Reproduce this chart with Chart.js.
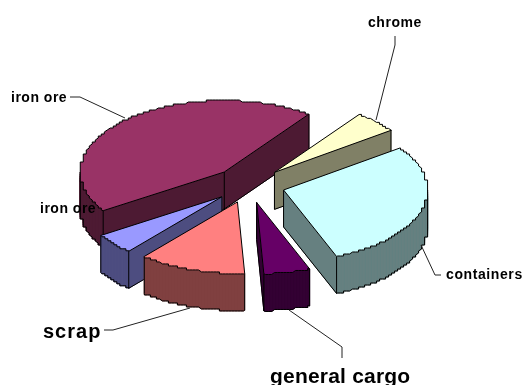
<!DOCTYPE html>
<html>
<head>
<meta charset="utf-8">
<style>html,body{margin:0;padding:0;background:#fff}canvas{display:block}</style>
<script src="https://cdn.jsdelivr.net/npm/chart.js@4/dist/chart.umd.min.js"></script>
</head>
<body>
<canvas id="c" width="523" height="385"></canvas>
<script>
const categories = ['chrome', 'containers', 'general cargo', 'scrap', 'iron ore', 'iron ore'];
const shares = [5, 29, 5.2, 12, 4.7, 44.1];
const topColors = ['#FFFFCC', '#CCFFFF', '#660066', '#FF8080', '#9999FF', '#993366'];
const sideColors = ['#808066', '#668080', '#330033', '#804040', '#4D4D80', '#4D1A33'];

const labelFonts = [14, 14, 21, 20, 14, 14];
const labelSpacing = [0.55, 0.6, 0.2, 1, 0.5, 0.5];
const labelAnchors = [[368, 27], [446, 279], [270, 383], [43, 338], [40, 213], [11, 102]];
const leaders = [
  [[395, 36], [395, 45], [376, 120]],
  [[421, 245], [435, 275], [441, 275]],
  [[342, 358], [342, 347], [289, 310]],
  [[104, 330], [113, 330], [190, 308]],
  null,
  [[70, 97], [80, 97], [125, 118]]
];

const TILT = 72 / 145, CENTER_Y = 185, DEPTH = 37, STEP_X = 3, STEP_Y = 2;

const pie3d = {
  id: 'pie3d',
  beforeDatasetsDraw(chart) {
    const ctx = chart.ctx;
    const midY = (chart.chartArea.top + chart.chartArea.bottom) / 2;
    const meta = chart.getDatasetMeta(0);
    const py = y => CENTER_Y + (y - midY) * TILT;
    const slices = meta.data.map((arc, i) => {
      const p = arc.getProps(['x', 'y', 'startAngle', 'endAngle', 'outerRadius']);
      const half = (p.startAngle + p.endAngle) / 2;
      const off = arc.options.offset / 4;
      return { i, p, half, cx: p.x + Math.cos(half) * off, cy: p.y + Math.sin(half) * off };
    }).sort((a, b) => Math.sin(a.half) - Math.sin(b.half));

    slices.forEach(s => {
      const ax = s.cx, ay = py(s.cy), r = s.p.outerRadius;
      const pts = [{ x: ax, y: ay, a: null }];
      const n = Math.max(2, Math.ceil((s.p.endAngle - s.p.startAngle) / 0.012));
      for (let k = 0; k <= n; k++) {
        const a = s.p.startAngle + (s.p.endAngle - s.p.startAngle) * k / n;
        let dx = Math.cos(a) * r, dy = Math.sin(a) * r * TILT;
        if (k > 0 && k < n) {
          dx = Math.round(dx / STEP_X) * STEP_X;
          dy = Math.round(dy / STEP_Y) * STEP_Y;
        }
        const q = { x: ax + dx, y: ay + dy, a };
        const last = pts[pts.length - 1];
        if (last.x !== q.x || last.y !== q.y) pts.push(q);
      }
      const isFront = (u, v) => {
        if (u.a === null || v.a === null) return v.x < u.x;
        return Math.sin((u.a + v.a) / 2) > 0;
      };
      const edges = pts.map((u, k) => {
        const v = pts[(k + 1) % pts.length];
        return { u, v, front: isFront(u, v) };
      });
      // side walls
      ctx.fillStyle = sideColors[s.i];
      ctx.strokeStyle = sideColors[s.i];
      ctx.lineWidth = 1;
      edges.filter(e => e.front).forEach(e => {
        ctx.beginPath();
        ctx.moveTo(e.u.x, e.u.y);
        ctx.lineTo(e.v.x, e.v.y);
        ctx.lineTo(e.v.x, e.v.y + DEPTH);
        ctx.lineTo(e.u.x, e.u.y + DEPTH);
        ctx.closePath();
        ctx.fill();
        ctx.stroke();
      });
      // wall outlines
      ctx.strokeStyle = '#000';
      ctx.lineWidth = 1;
      ctx.beginPath();
      edges.filter(e => e.front).forEach(e => {
        ctx.moveTo(e.u.x, e.u.y + DEPTH);
        ctx.lineTo(e.v.x, e.v.y + DEPTH);
      });
      const lastIdx = pts.length - 1;
      edges.forEach((e, k) => {
        const prev = edges[(k - 1 + edges.length) % edges.length];
        const corner = k === 0 || k === 1 || k === lastIdx;
        if ((corner && (e.front || prev.front)) || e.front !== prev.front) {
          ctx.moveTo(e.u.x, e.u.y);
          ctx.lineTo(e.u.x, e.u.y + DEPTH);
        }
      });
      ctx.stroke();
      // top face
      ctx.beginPath();
      pts.forEach((q, k) => k ? ctx.lineTo(q.x, q.y) : ctx.moveTo(q.x, q.y));
      ctx.closePath();
      ctx.fillStyle = topColors[s.i];
      ctx.fill();
      ctx.stroke();
    });

    // leader lines
    ctx.strokeStyle = '#222';
    ctx.lineWidth = 1;
    leaders.forEach(line => {
      if (!line) return;
      ctx.beginPath();
      line.forEach((q, k) => k ? ctx.lineTo(q[0], q[1]) : ctx.moveTo(q[0], q[1]));
      ctx.stroke();
    });

    // category labels
    ctx.fillStyle = '#000';
    ctx.textBaseline = 'alphabetic';
    ctx.textAlign = 'left';
    chart.data.labels.forEach((name, i) => {
      ctx.font = 'bold ' + labelFonts[i] + 'px "Liberation Sans", Arial, sans-serif';
      ctx.letterSpacing = labelSpacing[i] + 'px';
      ctx.fillText(name, labelAnchors[i][0], labelAnchors[i][1]);
    });
    ctx.letterSpacing = '0px';
    return false;
  }
};

new Chart(document.getElementById('c'), {
  type: 'pie',
  data: {
    labels: categories,
    datasets: [{ data: shares, backgroundColor: topColors, borderWidth: 0, offset: 144 }]
  },
  options: {
    responsive: false,
    animation: false,
    rotation: 36,
    radius: 144,
    layout: { padding: { right: 25 } },
    plugins: { legend: { display: false }, tooltip: { enabled: false } }
  },
  plugins: [pie3d]
});
</script>
</body>
</html>
